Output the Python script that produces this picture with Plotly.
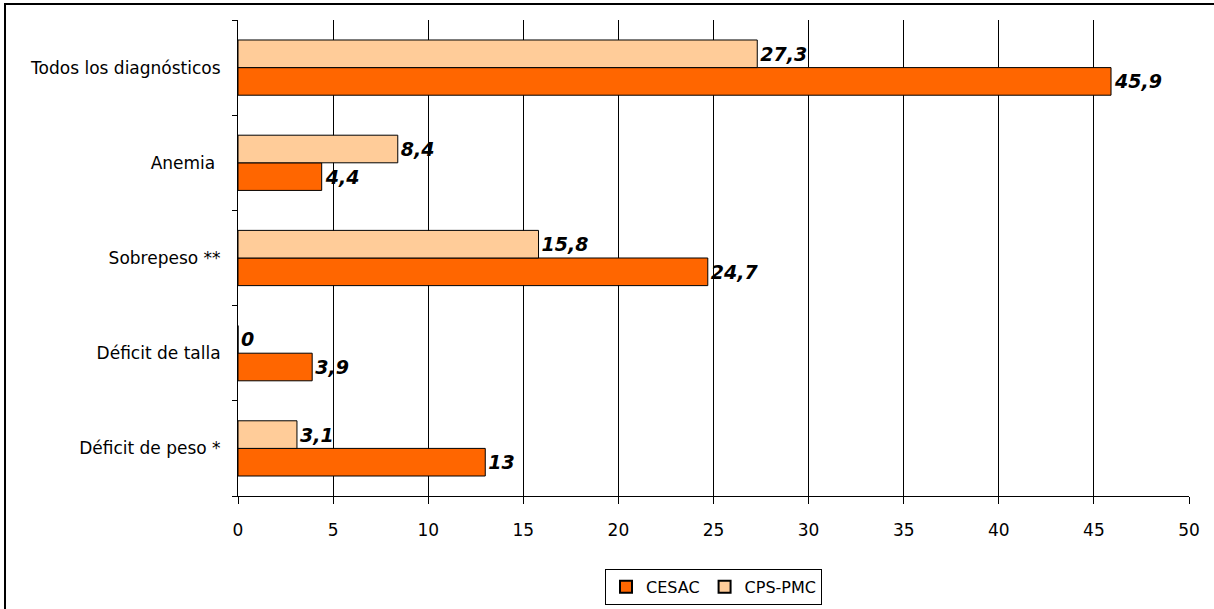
import plotly.graph_objects as go

categories = ["Déficit de peso *", "Déficit de talla", "Sobrepeso **", "Anemia\u00a0", "Todos los diagnósticos"]
cesac = [13, 3.9, 24.7, 4.4, 45.9]
cps_pmc = [3.1, 0, 15.8, 8.4, 27.3]
x_ticks = [0, 5, 10, 15, 20, 25, 30, 35, 40, 45, 50]

def fmt(v):
    s = ("%g" % v).replace(".", ",")
    return s

label_font = dict(family="DejaVu Sans", size=19, color="black")

fig = go.Figure()
fig.add_trace(go.Bar(
    name="CESAC", y=categories, x=cesac, orientation="h",
    marker=dict(color="#FF6600", line=dict(color="black", width=1)),
    text=[fmt(v) for v in cesac], textposition="outside",
    texttemplate="<b><i>%{text}</i></b>", textfont=label_font, cliponaxis=False,
))
fig.add_trace(go.Bar(
    name="CPS-PMC", y=categories, x=cps_pmc, orientation="h",
    marker=dict(color="#FFCC99", line=dict(color="black", width=1)),
    text=[fmt(v) for v in cps_pmc], textposition="outside",
    texttemplate="<b><i>%{text}</i></b>", textfont=label_font, cliponaxis=False,
))

fig.update_layout(
    width=1214, height=609,
    margin=dict(l=238, r=25, t=20, b=113, autoexpand=False),
    paper_bgcolor="white", plot_bgcolor="white",
    barmode="group", bargap=0.42, bargroupgap=0,
    font=dict(family="DejaVu Sans", size=17, color="black"),
    showlegend=True,
    legend=dict(orientation="h", x=0.5, xanchor="center", y=-0.153, yanchor="top",
                bordercolor="black", borderwidth=1, font=dict(size=16),
                traceorder="normal", itemsizing="constant", itemwidth=30),
    xaxis=dict(range=[0, 50], tickvals=x_ticks, showgrid=True, gridcolor="black", gridwidth=1,
               showline=True, linecolor="black", linewidth=1, ticks="outside", ticklen=7,
               tickcolor="black", zeroline=False, ticklabelstandoff=12, fixedrange=True),
    yaxis=dict(categoryorder="array", categoryarray=categories, showline=True, linecolor="black",
               linewidth=1, ticks="outside", ticklen=5, tickcolor="black", tickson="boundaries",
               showgrid=False, ticklabelstandoff=13),
    shapes=[dict(type="rect", xref="paper", yref="paper", x0=-0.245, x1=1.2, y0=-0.5, y1=1.0336,
                 line=dict(color="black", width=2), fillcolor="rgba(0,0,0,0)", layer="above")],
)

fig.write_html("out.html")
